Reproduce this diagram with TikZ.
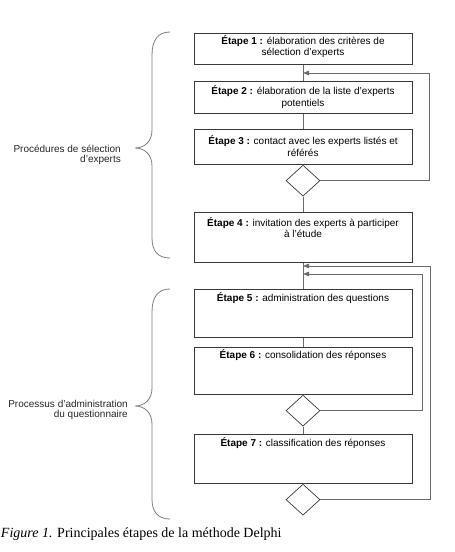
\documentclass[tikz,border=0pt]{standalone}
\usepackage{fontspec}
\setmainfont{Liberation Sans}
\newfontfamily\captionserif{Liberation Serif}
\usetikzlibrary{shapes.geometric,arrows.meta}
\definecolor{boxcol}{HTML}{3A3A3A}
\definecolor{linecol}{HTML}{6A6A6A}
\definecolor{bracecol}{HTML}{7C7C7C}
\newcommand{\mystep}[3]{\parbox[c][#1][t]{218pt}{\centering\rule{0pt}{#2}#3}}
\tikzset{
  stepbox/.style={draw=boxcol, line width=0.8pt, inner sep=0pt, anchor=north,
    font=\fontsize{10}{11.5}\selectfont},
  decision/.style={draw=boxcol, diamond, minimum width=34pt, minimum height=31pt,
    inner sep=0pt, line width=0.7pt, anchor=north},
  link/.style={draw=linecol, line width=0.8pt},
  fb/.style={link, -{Triangle[length=6pt,width=4.5pt]}},
  brace/.style={draw=bracecol, line width=0.8pt},
  grouplabel/.style={align=right, anchor=north east, inner sep=0pt,
    font=\fontsize{10}{10}\selectfont, text=black!85}
}
\begin{document}
\begin{tikzpicture}[x=1pt,y=-1pt]
\useasboundingbox (0,0) rectangle (455,552);
% steps
\node[stepbox] (b1) at (303,33) {\mystep{31pt}{10.6pt}{\textbf{Étape 1 :} élaboration des critères de\\ sélection d'experts}};
\node[stepbox] (b2) at (303,81) {\mystep{32pt}{13.3pt}{\textbf{Étape 2 :} élaboration de la liste d'experts\\ potentiels}};
\node[stepbox] (b3) at (303,129) {\mystep{35pt}{15.3pt}{\textbf{Étape 3 :} contact avec les experts listés et\\ référés}};
\node[decision] (d1) at (b3.south) {};
\node[stepbox] (b4) at (303,212) {\mystep{50pt}{13.6pt}{\textbf{Étape 4 :} invitation des experts à participer\\ à l'étude}};
\node[stepbox] (b5) at (303,289) {\mystep{48pt}{11.6pt}{\textbf{Étape 5 :} administration des questions}};
\node[stepbox] (b6) at (303,347) {\mystep{47pt}{10.6pt}{\textbf{Étape 6 :} consolidation des réponses}};
\node[decision] (d2) at (b6.south) {};
\node[stepbox] (b7) at (303,434) {\mystep{49pt}{11.6pt}{\textbf{Étape 7 :} classification des réponses}};
\node[decision] (d3) at (b7.south) {};
% junctions
\coordinate (j1) at (303,73);
\coordinate (j2) at (303,266);
\coordinate (j3) at (303,274);
% connectors
\draw[link] (b1) -- (b2);
\draw[link] (b2) -- (b3);
\draw[link] (d1) -- (b4);
\draw[link] (b4) -- (b5);
\draw[link] (b5) -- (b6);
\draw[link] (d2) -- (b7);
\draw[fb] (d1.east) -- ++(109,0) |- (j1);
\draw[fb] (d2.east) -- ++(102,0) |- (j3);
\draw[fb] (d3.east) -- ++(110,0) |- (j2);
% braces
\draw[brace] (170,32) .. controls (158,32) and (152,40) .. (152,55) -- (152,130)
  .. controls (152,141) and (145,148) .. (135,148)
  .. controls (145,148) and (152,155) .. (152,166) -- (152,238)
  .. controls (152,251) and (158,258) .. (170,258);
\draw[brace] (170,289) .. controls (158,289) and (152,297) .. (152,312) -- (152,388)
  .. controls (152,399) and (145,406) .. (135,406)
  .. controls (145,406) and (152,413) .. (152,424) -- (152,499)
  .. controls (152,512) and (158,519) .. (170,519);
% group labels
\node[grouplabel] (g1) at (121,145) {Procédures de sélection\\d'experts};
\node[grouplabel] (g2) at (128,400) {Processus d'administration\\du questionnaire};
% caption
\node[anchor=base west, inner sep=0pt, font=\captionserif\fontsize{14}{16}\selectfont] (cap) at (0.8,537) {\textit{Figure 1.} Principales étapes de la méthode Delphi};
\end{tikzpicture}
\end{document}
